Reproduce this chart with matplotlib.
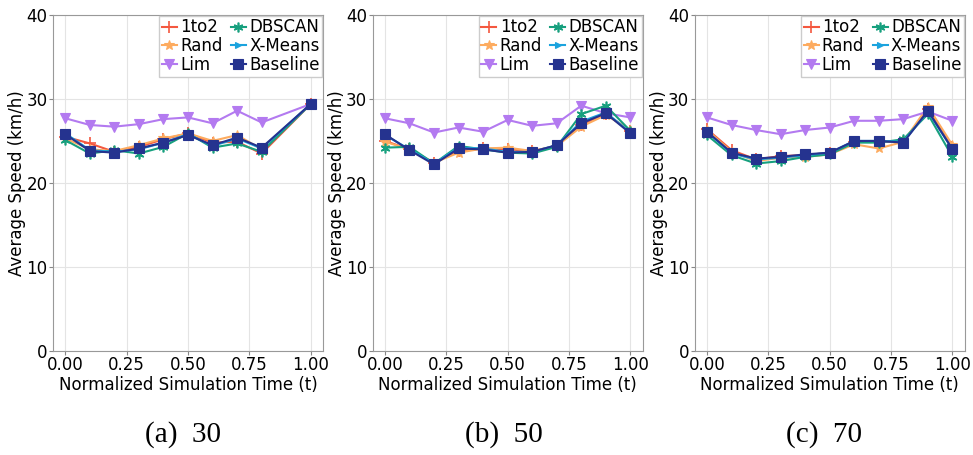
import matplotlib.pyplot as plt

# x positions (panel a has no 0.9 sample)
t_a = [0.0, 0.1, 0.2, 0.3, 0.4, 0.5, 0.6, 0.7, 0.8, 1.0]
t_bc = [0.0, 0.1, 0.2, 0.3, 0.4, 0.5, 0.6, 0.7, 0.8, 0.9, 1.0]

# (a) 30
a_1to2 = [25.5, 24.7, 23.7, 24.3, 25.2, 25.9, 24.8, 24.9, 23.5, 29.4]
a_rand = [25.3, 24.0, 23.8, 24.5, 25.3, 25.9, 25.0, 25.7, 24.0, 29.4]
a_lim = [27.7, 26.9, 26.7, 27.0, 27.6, 27.8, 27.1, 28.6, 27.2, 29.4]
a_dbscan = [25.1, 23.5, 23.9, 23.5, 24.3, 25.9, 24.2, 24.7, 23.7, 29.4]
a_xmeans = [25.9, 23.9, 23.7, 24.0, 24.8, 25.8, 24.4, 25.3, 24.1, 29.4]
a_base = [25.8, 23.8, 23.6, 24.1, 24.8, 25.7, 24.5, 25.4, 24.2, 29.4]

# (b) 50
b_1to2 = [25.0, 24.0, 22.4, 23.8, 24.1, 24.0, 23.8, 24.4, 26.9, 28.2, 26.2]
b_rand = [24.9, 24.0, 22.4, 23.6, 24.1, 24.2, 23.8, 24.4, 26.7, 28.1, 26.3]
b_lim = [27.7, 27.1, 26.0, 26.6, 26.1, 27.5, 26.8, 27.1, 29.2, 28.3, 27.8]
b_dbscan = [24.2, 24.3, 22.3, 24.4, 24.0, 23.6, 23.5, 24.3, 28.2, 29.2, 26.2]
b_xmeans = [25.7, 24.0, 22.3, 24.2, 24.1, 23.7, 23.7, 24.5, 27.3, 28.4, 26.0]
b_base = [25.8, 23.9, 22.2, 24.1, 24.0, 23.6, 23.7, 24.5, 27.1, 28.3, 25.9]

# (c) 70
c_1to2 = [26.4, 23.9, 22.8, 23.2, 23.3, 23.6, 24.9, 24.9, 24.9, 28.8, 24.3]
c_rand = [26.3, 23.7, 22.6, 23.0, 23.1, 23.4, 24.6, 24.1, 24.9, 29.1, 24.5]
c_lim = [27.8, 26.9, 26.3, 25.8, 26.3, 26.6, 27.4, 27.4, 27.6, 28.5, 27.4]
c_dbscan = [25.7, 23.3, 22.3, 22.6, 23.1, 23.4, 24.8, 24.8, 25.2, 28.2, 23.1]
c_xmeans = [26.1, 23.5, 22.8, 23.0, 23.3, 23.6, 25.0, 25.0, 24.9, 28.5, 24.0]
c_base = [26.1, 23.6, 22.9, 23.1, 23.4, 23.6, 25.0, 25.0, 24.8, 28.6, 24.0]

labels = ['1to2', 'Rand', 'Lim', 'DBSCAN', 'X-Means', 'Baseline']
captions = ['(a)  30', '(b)  50', '(c)  70']

panels = [
    (t_a, [a_1to2, a_rand, a_lim, a_dbscan, a_xmeans, a_base]),
    (t_bc, [b_1to2, b_rand, b_lim, b_dbscan, b_xmeans, b_base]),
    (t_bc, [c_1to2, c_rand, c_lim, c_dbscan, c_xmeans, c_base]),
]

colors = ['#f4583f', '#fdab5f', '#b37af0', '#17a07e', '#1ba3de', '#25338f']
markers = ['+', '*', 'v', (6, 2, 0), '>', 's']
msizes = [8, 7, 7, 7, 5, 7]

plt.rcParams['font.family'] = 'DejaVu Sans'
fig = plt.figure(figsize=(9.73, 4.55), dpi=100)

lefts = [0.0545, 0.383, 0.714]
cap_x = [0.188, 0.518, 0.847]
for i, (t, series) in enumerate(panels):
    ax = fig.add_axes([lefts[i], 0.229, 0.2775, 0.738])
    for s, lab, c, m, ms in zip(series, labels, colors, markers, msizes):
        ax.plot(t, s, color=c, marker=m, markersize=ms, linewidth=1.5,
                label=lab, markeredgewidth=1.2 if m in ('+', (6, 2, 0)) else 0.8)
    ax.set_ylim(0, 40)
    ax.set_yticks([0, 10, 20, 30, 40])
    ax.set_xticks([0.0, 0.25, 0.5, 0.75, 1.0])
    ax.set_xticklabels(['0.00', '0.25', '0.50', '0.75', '1.00'])
    ax.tick_params(labelsize=12, length=3, color='#888888', pad=1)
    ax.grid(True, color='#e4e4e4', linewidth=0.8)
    for sp in ax.spines.values():
        sp.set_color('#999999')
    ax.set_xlabel('Normalized Simulation Time (t)', fontsize=12, labelpad=1)
    ax.set_ylabel('Average Speed (km/h)', fontsize=12, labelpad=0)
    ax.legend(loc='upper right', ncol=2, fontsize=12, handlelength=0.9,
              handletextpad=0.2, columnspacing=0.5, labelspacing=0.05,
              borderpad=0.15, borderaxespad=0.05, fancybox=False, framealpha=1,
              edgecolor='#cccccc')
    fig.text(cap_x[i], 0.044, captions[i], ha='center', va='center',
             fontsize=21, family='Liberation Serif')

fig.savefig('out.png', dpi=100)
